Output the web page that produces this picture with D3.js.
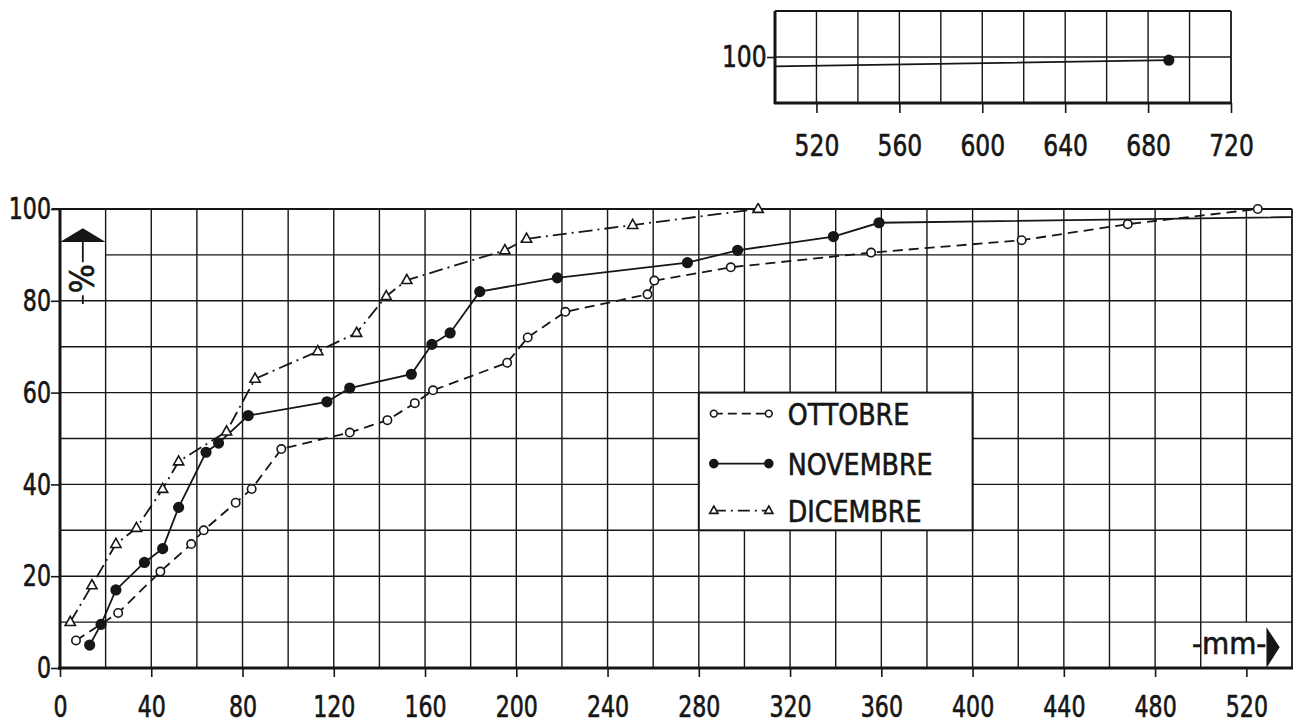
<!DOCTYPE html>
<html>
<head>
<meta charset="utf-8">
<script src="https://cdn.jsdelivr.net/npm/d3@7"></script>
<style>
	html, body { margin: 0; padding: 0; background: #fff; }
	svg { display: block; }
</style>
</head>
<body>
<div id="chart"></div>
<script>
// cumulative rainfall distribution, mm vs %
const ottobreMm = [7, 25.5, 44, 57.5, 63, 77, 84, 97, 127, 143.5, 155.5, 163.5, 196, 205, 221.5, 257.5, 260.5, 294, 355.5, 421.5, 468, 525];
const ottobrePct = [6, 12, 21, 27, 30, 36, 39, 47.7, 51.3, 54, 57.7, 60.5, 66.5, 72, 77.6, 81.4, 84.4, 87.3, 90.5, 93.2, 96.7, 100];

const novembreMm = [13, 18, 24.5, 37, 45, 52, 64, 69.5, 82.5, 117, 127, 154, 163, 171, 184, 218, 275, 297, 339, 359, 690];
const novembrePct = [5, 9.5, 17, 23, 26, 35, 47, 49, 55, 58, 61, 64, 70.5, 73, 82, 85, 88.3, 91, 94, 97, 99.3];

const dicembreMm = [4.5, 14, 24.5, 33.5, 45, 52, 73, 85.5, 113, 130, 143, 152, 195, 204.5, 251, 306];
const dicembrePct = [10, 18, 27, 30.5, 39, 45, 51.5, 63, 69, 73, 81, 84.5, 91, 93.5, 96.5, 100];

const seriesNames = ["OTTOBRE", "NOVEMBRE", "DICEMBRE"];
const xTicks = [0, 40, 80, 120, 160, 200, 240, 280, 320, 360, 400, 440, 480, 520];
const yTicks = [0, 20, 40, 60, 80, 100];
const insetXTicks = [520, 560, 600, 640, 680, 720];
const insetYTicks = [100];

const FONT = "'DejaVu Sans Condensed', 'Liberation Sans Narrow', sans-serif";
const INK = "#161616";

const width = 1316;
const height = 724;

const svg = d3
	.select("#chart")
	.append("svg")
	.attr("width", width)
	.attr("height", height)
	.attr("viewBox", [0, 0, width, height]);

const x = d3.scaleLinear().domain([0, 540]).range([60, 1292]);
const y = d3.scaleLinear().domain([0, 100]).range([668, 209]);

const xi = d3.scaleLinear().domain([500, 720]).range([775, 1231]);
const yi = d3.scaleLinear().domain([90, 110]).range([103, 11]);

const series = [
	{ name: seriesNames[0], mm: ottobreMm, pct: ottobrePct, dash: "10,6", marker: "open" },
	{ name: seriesNames[1], mm: novembreMm, pct: novembrePct, dash: null, marker: "filled" },
	{ name: seriesNames[2], mm: dicembreMm, pct: dicembrePct, dash: "14,5,2,5", marker: "triangle" },
].map((s) => ({ ...s, points: s.mm.map((v, i) => ({ mm: v, pct: s.pct[i] })) }));

// text in the drawing is a heavy narrow stencil face; a thin stroke thickens it a bit
function styleText(sel, size) {
	sel.attr("fill", INK)
		.attr("stroke", INK)
		.attr("stroke-width", 0.6)
		.style("font-family", FONT)
		.style("font-size", size + "px");
}

// ---------- main grid ----------
const grid = svg.append("g").attr("stroke", INK).attr("stroke-width", 1.4);

d3.range(20, 540, 20).forEach((v) => {
	// the cell holding the mm arrow has no 520 line
	const y0 = v === 520 ? y(10) : y(0);
	grid.append("line").attr("x1", x(v)).attr("x2", x(v)).attr("y1", y(100)).attr("y2", y0);
});
d3.range(10, 100, 10).forEach((v) => {
	// the cell holding the % arrow has no 90 line
	const x0 = v === 90 ? x(20) : x(0);
	grid.append("line").attr("x1", x0).attr("x2", x(540)).attr("y1", y(v)).attr("y2", y(v));
});

// frame
svg.append("line").attr("x1", x(0) - 8).attr("x2", x(540)).attr("y1", y(100)).attr("y2", y(100))
	.attr("stroke", INK).attr("stroke-width", 1.8);
svg.append("line").attr("x1", x(540)).attr("x2", x(540)).attr("y1", y(100)).attr("y2", y(0))
	.attr("stroke", INK).attr("stroke-width", 1.8);
svg.append("line").attr("x1", x(0)).attr("x2", x(0)).attr("y1", y(100)).attr("y2", y(0) + 2)
	.attr("stroke", INK).attr("stroke-width", 3);
svg.append("line").attr("x1", x(0) - 2).attr("x2", x(540) + 1).attr("y1", y(0)).attr("y2", y(0))
	.attr("stroke", INK).attr("stroke-width", 3.2);

// legend box sits on the grid, covering it
svg.append("rect")
	.attr("x", x(280))
	.attr("y", y(60))
	.attr("width", x(400) - x(280))
	.attr("height", y(30) - y(60))
	.attr("fill", "#fff")
	.attr("stroke", INK)
	.attr("stroke-width", 2);

// ---------- main series ----------
svg.append("defs")
	.append("clipPath")
	.attr("id", "mainClip")
	.append("rect")
	.attr("x", x(0))
	.attr("y", y(100) - 6)
	.attr("width", x(540) - x(0))
	.attr("height", y(0) - y(100) + 6);

svg.select("defs")
	.append("clipPath")
	.attr("id", "insetClip")
	.append("rect")
	.attr("x", xi(500))
	.attr("y", yi(110))
	.attr("width", xi(720) - xi(500))
	.attr("height", yi(90) - yi(110));

function drawMarker(g, type, cx, cy, size) {
	if (type === "triangle") {
		const r = size * 1.35;
		g.append("path")
			.attr("d", `M${cx},${cy - r}L${cx + r * 0.9},${cy + r * 0.6}L${cx - r * 0.9},${cy + r * 0.6}Z`)
			.attr("fill", "#fff")
			.attr("stroke", INK)
			.attr("stroke-width", 1.6);
	} else {
		g.append("circle")
			.attr("cx", cx)
			.attr("cy", cy)
			.attr("r", type === "filled" ? size + 0.6 : size)
			.attr("fill", type === "filled" ? INK : "#fff")
			.attr("stroke", INK)
			.attr("stroke-width", 1.6);
	}
}

function drawSeries(g, list, sx, sy, xMin, xMax) {
	const line = d3.line().x((d) => sx(d.mm)).y((d) => sy(d.pct));
	list.forEach((s) => {
		g.append("path")
			.datum(s.points)
			.attr("d", line)
			.attr("fill", "none")
			.attr("stroke", INK)
			.attr("stroke-width", 1.8)
			.attr("stroke-dasharray", s.dash);
	});
	list.forEach((s) => {
		s.points
			.filter((d) => d.mm >= xMin && d.mm <= xMax)
			.forEach((d) => drawMarker(g, s.marker, sx(d.mm), sy(d.pct), 4.2));
	});
}

drawSeries(svg.append("g").attr("clip-path", "url(#mainClip)"), series, x, y, 0, 540);

// ---------- main axes ----------
const xAxis = (g) =>
	g.attr("transform", `translate(0,${y(0)})`)
		.call(d3.axisBottom(x).tickValues(xTicks).tickSize(9).tickPadding(19).tickFormat(d3.format("d")))
		.call((g) => g.select(".domain").remove());

const yAxis = (g) =>
	g.attr("transform", `translate(${x(0)},0)`)
		.call(d3.axisLeft(y).tickValues(yTicks).tickSize(9).tickPadding(2).tickFormat(d3.format("d")))
		.call((g) => g.select(".domain").remove());

svg.append("g").attr("class", "main-axis").call(xAxis);
svg.append("g").attr("class", "main-axis").call(yAxis);

svg.selectAll(".main-axis .tick line").attr("stroke", INK).attr("stroke-width", 1.6);
// narrow the digits like the original lettering
styleText(svg.selectAll(".main-axis .tick text").attr("transform", "scale(0.82,1)"), 30);

// % arrow in the top-left cell
svg.append("path")
	.attr("d", `M${x(0)},${y(92.8)}L${x(10)},${y(95.8)}L${x(20)},${y(92.8)}Z`)
	.attr("fill", INK);
svg.append("line").attr("x1", x(10)).attr("x2", x(10)).attr("y1", y(92.8)).attr("y2", y(88.4))
	.attr("stroke", INK).attr("stroke-width", 1.8);
svg.append("line").attr("x1", x(10)).attr("x2", x(10)).attr("y1", y(81.2)).attr("y2", y(79.3))
	.attr("stroke", INK).attr("stroke-width", 1.8);
styleText(
	svg.append("text")
		.attr("transform", `translate(${x(10) + 11},${y(84.8)}) rotate(-90)`)
		.attr("text-anchor", "middle")
		.text("%"),
	34
);

// mm arrow in the bottom-right cell
svg.append("path")
	.attr("d", `M${x(528.8)},${y(8.9)}L${x(534.6)},${y(4.5)}L${x(528.8)},${y(0)}Z`)
	.attr("fill", INK);
styleText(
	svg.append("text")
		.attr("x", x(528.8))
		.attr("y", y(4.5) + 7)
		.attr("text-anchor", "end")
		.text("-mm-"),
	31
);

// ---------- legend ----------
const legendTop = y(60);
const legendRows = [21, 71, 118];
const legend = svg.append("g");
series.forEach((s, i) => {
	const ly = legendTop + legendRows[i];
	const lx0 = x(280) + 15;
	const lx1 = x(280) + 70;
	legend.append("line")
		.attr("x1", lx0)
		.attr("x2", lx1)
		.attr("y1", ly)
		.attr("y2", ly)
		.attr("stroke", INK)
		.attr("stroke-width", 1.8)
		.attr("stroke-dasharray", s.dash ? (i === 0 ? "9,5" : "12,5,2,5") : null);
	drawMarker(legend, s.marker, lx0, ly, 3.4);
	drawMarker(legend, s.marker, lx1, ly, 3.4);
	styleText(
		legend.append("text")
			.attr("transform", `translate(${x(280) + 89},${ly + 11}) scale(0.94,1)`)
			.text(s.name),
		30
	);
});

// ---------- inset (tail of NOVEMBRE beyond 500 mm) ----------
const inset = svg.append("g");
const insetGrid = inset.append("g").attr("stroke", INK).attr("stroke-width", 1.4);
d3.range(520, 720, 20).forEach((v) => {
	insetGrid.append("line").attr("x1", xi(v)).attr("x2", xi(v)).attr("y1", yi(110)).attr("y2", yi(90));
});
insetGrid.append("line").attr("x1", xi(500)).attr("x2", xi(720)).attr("y1", yi(100)).attr("y2", yi(100));
inset.append("line").attr("x1", xi(500)).attr("x2", xi(720)).attr("y1", yi(110)).attr("y2", yi(110))
	.attr("stroke", INK).attr("stroke-width", 1.8);
inset.append("line").attr("x1", xi(720)).attr("x2", xi(720)).attr("y1", yi(110)).attr("y2", yi(90))
	.attr("stroke", INK).attr("stroke-width", 1.8);
inset.append("line").attr("x1", xi(500)).attr("x2", xi(500)).attr("y1", yi(110)).attr("y2", yi(90) + 1)
	.attr("stroke", INK).attr("stroke-width", 3);
inset.append("line").attr("x1", xi(500) - 1).attr("x2", xi(720) + 1).attr("y1", yi(90)).attr("y2", yi(90))
	.attr("stroke", INK).attr("stroke-width", 3.2);

drawSeries(
	inset.append("g").attr("clip-path", "url(#insetClip)"),
	series.filter((s) => d3.max(s.mm) > 540),
	xi, yi, 500, 720
);

inset.append("g")
	.attr("class", "inset-axis")
	.attr("transform", `translate(0,${yi(90)})`)
	.call(d3.axisBottom(xi).tickValues(insetXTicks).tickSize(10).tickPadding(21).tickFormat(d3.format("d")))
	.call((g) => g.select(".domain").remove());
inset.append("g")
	.attr("class", "inset-axis")
	.attr("transform", `translate(${xi(500)},0)`)
	.call(d3.axisLeft(yi).tickValues(insetYTicks).tickSize(8).tickPadding(2).tickFormat(d3.format("d")))
	.call((g) => g.select(".domain").remove());

inset.selectAll(".inset-axis .tick line").attr("stroke", INK).attr("stroke-width", 1.6);
styleText(inset.selectAll(".inset-axis .tick text").attr("transform", "scale(0.84,1)"), 31);
</script>
</body>
</html>
